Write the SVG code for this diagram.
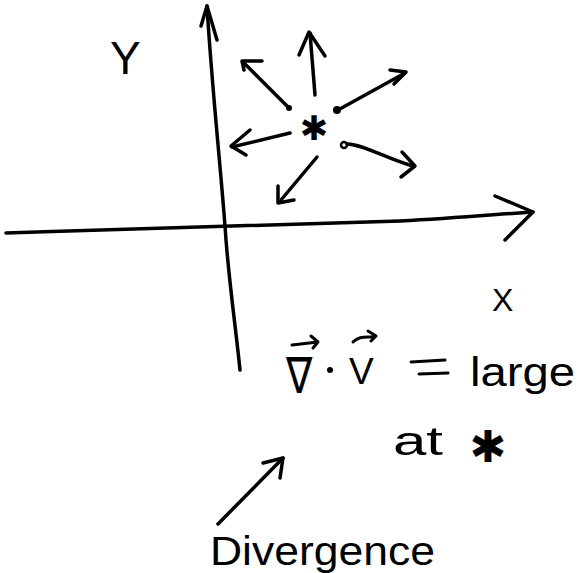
<svg xmlns="http://www.w3.org/2000/svg" width="579" height="573" viewBox="0 0 579 573">
<style>
.s{fill:none;stroke:#000;stroke-width:3.5;stroke-linecap:round;stroke-linejoin:round}
.t{font-family:"Liberation Sans",Arial,sans-serif;fill:#000}
.a{font-family:"DejaVu Sans",sans-serif;fill:#000;text-anchor:middle}
</style>
<rect width="579" height="573" fill="#fff"/>
<g id="axes">
<path class="s" d="M207,6 C212,90 222,180 226,240 C230,290 236,330 240,370"/>
<path class="s" d="M201,26 L207,6 L217,40"/>
<path class="s" d="M6,233 C150,228 300,224 400,221 C460,218 500,214 533,212"/>
<path class="s" d="M495,196 L533,212 L505,240"/>
</g>
<g id="labels">
<text class="t" x="110" y="74" font-size="46">Y</text>
<text class="t" x="492" y="311" font-size="32">X</text>
</g>
<g id="field">
<text class="a" x="314" y="140" font-size="34">✱</text>
<path class="s" d="M315,95 L310,33"/>
<path class="s" d="M299,55 L309,32 L325,56"/>
<path class="s" d="M289,108 L244,63"/>
<path class="s" d="M262,61 L242,61 L244,70"/>
<circle cx="289" cy="108" r="3"/>
<path class="s" d="M338,110 L405,73"/>
<path class="s" d="M390,70 L406,72 L394,84"/>
<circle cx="337" cy="110" r="4"/>
<path class="s" d="M290,133 L232,147"/>
<path class="s" d="M250,130 L231,146 L246,155"/>
<path class="s" d="M317,157 L281,200"/>
<path class="s" d="M278,186 L278,203 L294,200"/>
<circle class="s" cx="344" cy="145" r="3" style="stroke-width:2.5"/>
<path class="s" d="M347,144 C365,145 385,158 413,166"/>
<path class="s" d="M402,152 L415,166 L401,177"/>
</g>
<g id="equation">
<text class="t" x="286" y="393" font-size="50" textLength="26" lengthAdjust="spacingAndGlyphs">∇</text>
<path class="s" d="M292,345 L318,342 M311,336 L318,342 L313,348" style="stroke-width:3"/>
<circle cx="330" cy="370" r="3"/>
<text class="t" x="349" y="384" font-size="37">V</text>
<path class="s" d="M353,342 C360,335 368,338 376,336 M368,331 L376,336 L371,341" style="stroke-width:3"/>
<path class="s" d="M411,362 L445,360 M419,374 L448,373" style="stroke-width:3"/>
<text class="t" x="470" y="386" font-size="40" textLength="105" lengthAdjust="spacingAndGlyphs">large</text>
<text class="t" x="393" y="455" font-size="40" textLength="50" lengthAdjust="spacingAndGlyphs">at</text>
<text class="a" x="488" y="462" font-size="44">✱</text>
</g>
<g id="pointer">
<path class="s" d="M218,524 L283,458"/>
<path class="s" d="M263,463 L283,458 L280,478"/>
</g>
<g id="title">
<text class="t" x="210" y="565" font-size="40" textLength="225" lengthAdjust="spacingAndGlyphs">Divergence</text>
</g>
</svg>
